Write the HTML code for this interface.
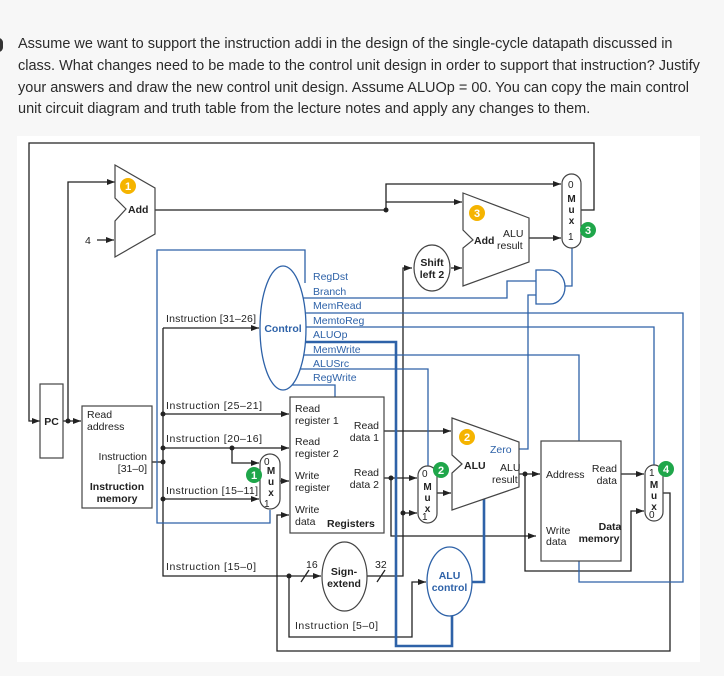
<!DOCTYPE html>
<html><head><meta charset="utf-8"><style>
body{margin:0;width:724px;height:676px;background:#f7f7f7;overflow:hidden;position:relative;font-family:"Liberation Sans",sans-serif}
.q{position:absolute;left:18px;font-size:14.5px;color:#2b2b2b;white-space:nowrap}
svg{position:absolute;left:0;top:0}
</style></head><body>
<div style="position:absolute;left:-6px;top:38px;width:9px;height:14px;border-radius:5px;background:#333"></div>
<div class="q" style="top:36px">Assume we want to support the instruction addi in the design of the single-cycle datapath discussed in</div>
<div class="q" style="top:58px">class. What changes need to be made to the control unit design in order to support that instruction? Justify</div>
<div class="q" style="top:80px">your answers and draw the new control unit design. Assume ALUOp = 00. You can copy the main control</div>
<div class="q" style="top:101px">unit circuit diagram and truth table from the lecture notes and apply any changes to them.</div>
<svg width="724" height="676" viewBox="0 0 724 676" font-family="Liberation Sans, sans-serif" font-size="10.5">
<defs>
<marker id="a" markerWidth="8" markerHeight="6" refX="8" refY="3" orient="auto" markerUnits="userSpaceOnUse"><path d="M0,0 L8,3 L0,6z" fill="#222"/></marker>
</defs>
<rect x="17" y="136" width="683" height="526" fill="#fff"/>
<g fill="none" stroke="#222" stroke-width="1.3">
<polyline points="581,210 594,210 594,143 29,143 29,421 40,421" marker-end="url(#a)"/>
<polyline points="63,421 81,421" marker-end="url(#a)"/>
<polyline points="68,421 68,182 115,182" marker-end="url(#a)"/>
<polyline points="97,240 114,240" marker-end="url(#a)"/>
<polyline points="155,210 386,210 386,184 561,184" marker-end="url(#a)"/>
<polyline points="386,202 462,202" marker-end="url(#a)"/>
<polyline points="529,238 561,238" marker-end="url(#a)"/>
<polyline points="451,268 462,268" marker-end="url(#a)"/>
<polyline points="151,462 163,462"/>
<polyline points="163,328 163,576 321,576" marker-end="url(#a)"/>
<polyline points="163,328 259,328" marker-end="url(#a)"/>
<polyline points="163,414 289,414" marker-end="url(#a)"/>
<polyline points="163,448 289,448" marker-end="url(#a)"/>
<polyline points="232,448 232,463 259,463" marker-end="url(#a)"/>
<polyline points="163,499 259,499" marker-end="url(#a)"/>
<polyline points="280,481 289,481" marker-end="url(#a)"/>
<polyline points="289,576 289,637 412,637 412,582 426,582" marker-end="url(#a)"/>
<line x1="301" y1="582" x2="309" y2="570"/>
<line x1="377" y1="582" x2="385" y2="570"/>
<polyline points="367,576 403,576 403,268 412,268" marker-end="url(#a)"/>
<polyline points="403,513 417,513" marker-end="url(#a)"/>
<polyline points="384,431 451,431" marker-end="url(#a)"/>
<polyline points="384,478 417,478" marker-end="url(#a)"/>
<polyline points="391,478 391,536 536,536" marker-end="url(#a)"/>
<polyline points="437,493 451,493" marker-end="url(#a)"/>
<polyline points="519,474 540,474" marker-end="url(#a)"/>
<polyline points="525,474 525,571 631,571 631,511 644,511" marker-end="url(#a)"/>
<polyline points="621,474 644,474" marker-end="url(#a)"/>
<polyline points="663,493 670,493 670,651 277,651 277,515 289,515" marker-end="url(#a)"/>
</g>
<g fill="#222">
<circle cx="68" cy="421" r="2.5"/><circle cx="386" cy="210" r="2.5"/>
<circle cx="163" cy="414" r="2.5"/><circle cx="163" cy="448" r="2.5"/><circle cx="163" cy="462" r="2.5"/><circle cx="163" cy="499" r="2.5"/>
<circle cx="232" cy="448" r="2.5"/><circle cx="289" cy="576" r="2.5"/><circle cx="403" cy="513" r="2.5"/>
<circle cx="391" cy="478" r="2.5"/><circle cx="525" cy="474" r="2.5"/>
</g>
<g fill="none" stroke="#2e62a8" stroke-width="1.3">
<polyline points="305,283 305,250 157,250 157,523 270,523 270,510"/>
<polyline points="300,298 507,298 507,281 536,281"/>
<polyline points="519,449 528,449 528,295 536,295"/>
<path d="M536,270 L550,270 A15,17 0 0 1 550,304 L536,304 Z"/>
<polyline points="565,286 572,286 572,248"/>
<polyline points="303,313 683,313 683,582 579,582 579,561"/>
<polyline points="305,327 654,327 654,465"/>
<polyline points="304,355 579,355 579,441"/>
<polyline points="300,369 428,369 428,467"/>
<polyline points="290,385 335,385 335,397"/>
<ellipse cx="283" cy="328" rx="23" ry="62" fill="#fff"/>
<ellipse cx="449.5" cy="581.5" rx="22.5" ry="34.5" fill="#fff"/>
</g>
<g fill="none" stroke="#2e62a8" stroke-width="2.6">
<polyline points="305,342 396,342 396,646 452,646 452,616"/>
<polyline points="472,582 484,582 484,499"/>
</g>
<g fill="#fff" stroke="#444" stroke-width="1.2">
<rect x="40" y="384" width="23" height="74"/>
<rect x="82" y="406" width="70" height="102"/>
<rect x="290" y="397" width="94" height="136"/>
<rect x="541" y="441" width="80" height="120"/>
<polygon points="115,165 155,188 155,234 115,257 115,221 126,209 115,198"/>
<polygon points="463,193 529,218 529,262 463,286 463,248 473,240 463,230"/>
<polygon points="452,418 519,442 519,487 452,510 452,473 462,464 452,455"/>
<rect x="562" y="174" width="19" height="74" rx="9.5"/>
<rect x="260" y="454" width="20" height="55" rx="10"/>
<rect x="418" y="466" width="19" height="57" rx="9.5"/>
<rect x="645" y="465" width="18" height="56" rx="9"/>
<ellipse cx="432" cy="268" rx="18" ry="23"/>
<ellipse cx="344.5" cy="576.5" rx="22.5" ry="34.5"/>
</g>
<g fill="#222">
<text x="51.5" y="425" font-weight="bold" text-anchor="middle">PC</text>
<text x="87" y="418">Read</text><text x="87" y="430">address</text>
<text x="147" y="460" text-anchor="end">Instruction</text><text x="147" y="472" text-anchor="end">[31–0]</text>
<text x="117" y="490" font-weight="bold" text-anchor="middle">Instruction</text><text x="117" y="502" font-weight="bold" text-anchor="middle">memory</text>
<text x="128" y="213" font-weight="bold">Add</text>
<text x="85" y="244">4</text>
<text x="474" y="244" font-weight="bold">Add</text><text x="503" y="237">ALU</text><text x="497" y="249">result</text>
<text x="432" y="266" font-weight="bold" text-anchor="middle">Shift</text><text x="432" y="278" font-weight="bold" text-anchor="middle">left 2</text>
<text x="166" y="322" textLength="90">Instruction [31–26]</text>
<text x="166" y="409" textLength="96">Instruction [25–21]</text>
<text x="166" y="442" textLength="96">Instruction [20–16]</text>
<text x="166" y="494" textLength="92">Instruction [15–11]</text>
<text x="166" y="570" textLength="90">Instruction [15–0]</text>
<text x="295" y="629" textLength="83">Instruction [5–0]</text>
<text x="295" y="412">Read</text><text x="295" y="424">register 1</text>
<text x="295" y="445">Read</text><text x="295" y="457">register 2</text>
<text x="295" y="479">Write</text><text x="295" y="491">register</text>
<text x="295" y="513">Write</text><text x="295" y="525">data</text>
<text x="379" y="429" text-anchor="end">Read</text><text x="379" y="441" text-anchor="end">data 1</text>
<text x="379" y="476" text-anchor="end">Read</text><text x="379" y="488" text-anchor="end">data 2</text>
<text x="327" y="527" font-weight="bold">Registers</text>
<text x="306" y="568">16</text><text x="375" y="568">32</text>
<text x="344" y="575" font-weight="bold" text-anchor="middle">Sign-</text><text x="344" y="587" font-weight="bold" text-anchor="middle">extend</text>
<text x="464" y="469" font-weight="bold">ALU</text><text x="500" y="471">ALU</text><text x="492" y="483">result</text>
<text x="546" y="478">Address</text>
<text x="617" y="472" text-anchor="end">Read</text><text x="617" y="484" text-anchor="end">data</text>
<text x="546" y="534">Write</text><text x="546" y="545">data</text>
<text x="610" y="530" font-weight="bold" text-anchor="middle">Data</text><text x="599" y="542" font-weight="bold" text-anchor="middle">memory</text>
<g font-size="10">
<text x="568" y="188">0</text><text x="568" y="240">1</text>
<text x="264" y="465">0</text><text x="264" y="507">1</text>
<text x="422" y="477">0</text><text x="422" y="520">1</text>
<text x="649" y="476">1</text><text x="649" y="518">0</text>
</g>
<g font-weight="bold" font-size="10" text-anchor="middle">
<text x="571.5" y="202">M</text><text x="571.5" y="213">u</text><text x="571.5" y="224">x</text>
<text x="271" y="474">M</text><text x="271" y="485">u</text><text x="271" y="496">x</text>
<text x="427.5" y="490">M</text><text x="427.5" y="501">u</text><text x="427.5" y="512">x</text>
<text x="654" y="488">M</text><text x="654" y="499">u</text><text x="654" y="510">x</text>
</g>
</g>
<g fill="#2e62a8">
<text x="283" y="332" font-weight="bold" text-anchor="middle">Control</text>
<text x="449.5" y="579" font-weight="bold" text-anchor="middle">ALU</text><text x="449.5" y="591" font-weight="bold" text-anchor="middle">control</text>
<text x="490" y="453">Zero</text>
<text x="313" y="280">RegDst</text><text x="313" y="295">Branch</text><text x="313" y="309">MemRead</text>
<text x="313" y="324">MemtoReg</text><text x="313" y="338">ALUOp</text><text x="313" y="353">MemWrite</text>
<text x="313" y="367">ALUSrc</text><text x="313" y="381">RegWrite</text>
</g>
<g font-weight="bold" font-size="11" text-anchor="middle" fill="#fff">
<circle cx="128" cy="186" r="8" fill="#f5b400"/><text x="128" y="190">1</text>
<circle cx="477" cy="213" r="8" fill="#f5b400"/><text x="477" y="217">3</text>
<circle cx="467" cy="437" r="8" fill="#f5b400"/><text x="467" y="441">2</text>
<circle cx="588" cy="230" r="8" fill="#1fa64a"/><text x="588" y="234">3</text>
<circle cx="254" cy="475" r="8" fill="#1fa64a"/><text x="254" y="479">1</text>
<circle cx="441" cy="470" r="8" fill="#1fa64a"/><text x="441" y="474">2</text>
<circle cx="666" cy="469" r="8" fill="#1fa64a"/><text x="666" y="473">4</text>
</g>
</svg>
</body></html>
